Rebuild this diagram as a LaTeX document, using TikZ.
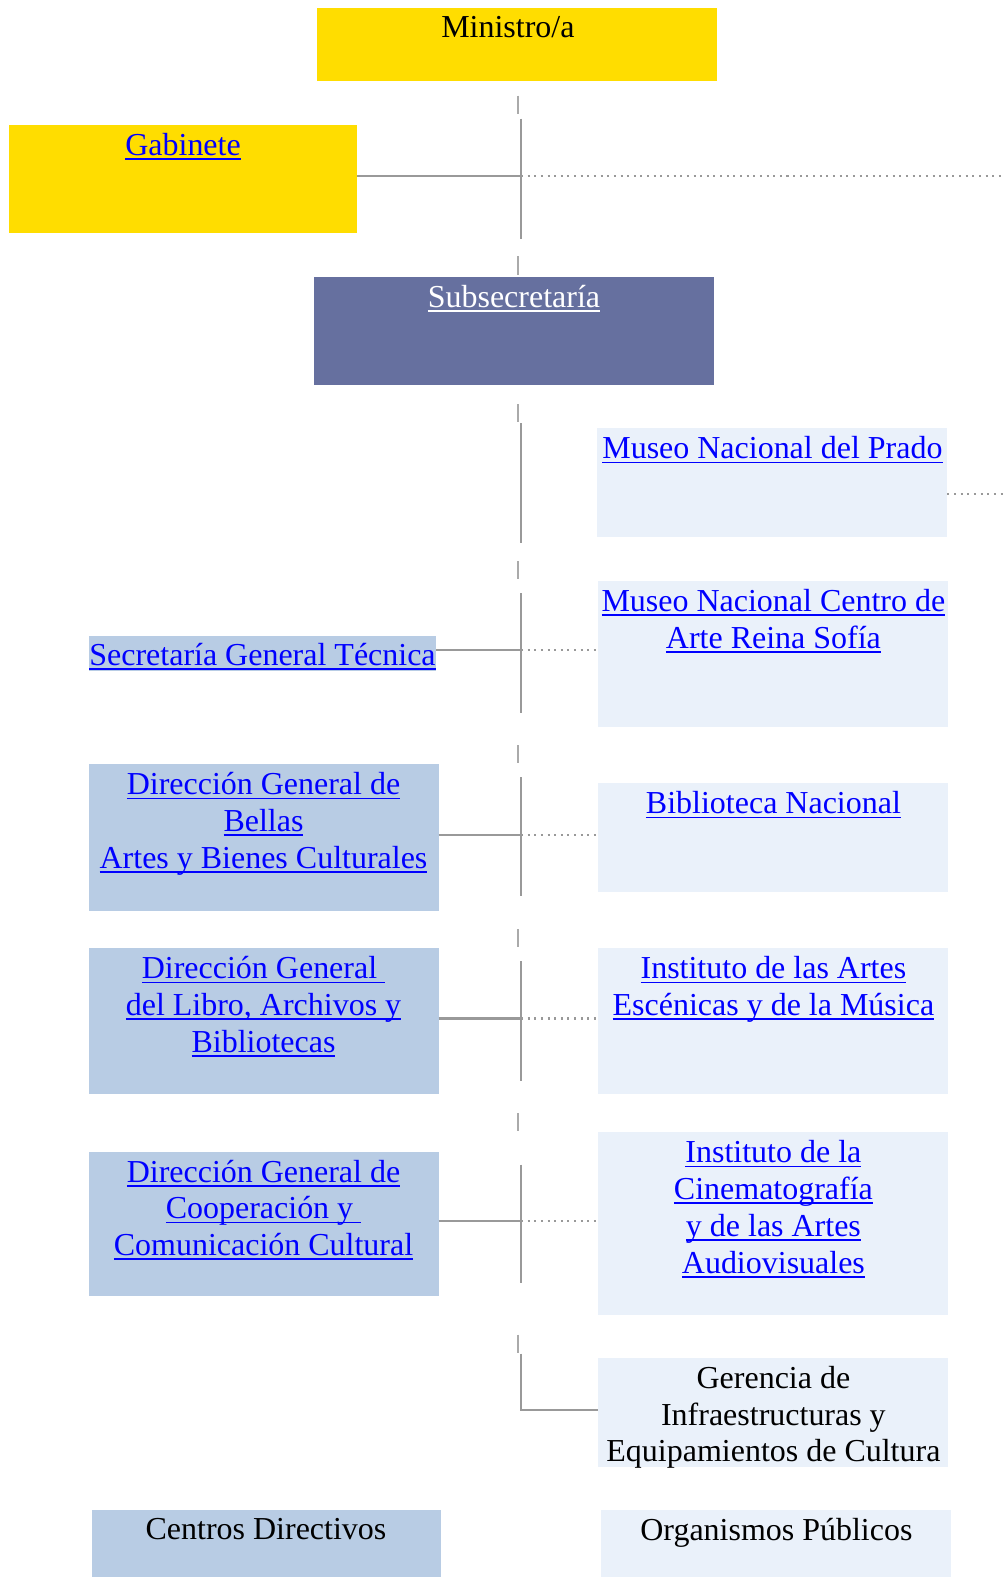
\documentclass[tikz,border=0pt]{standalone}
\usepackage{fontspec}
\setmainfont{Liberation Serif}
\usepackage{tikz}
\usetikzlibrary{positioning}

\definecolor{ministroC}{HTML}{FFDD00}
\definecolor{subC}{HTML}{66709F}
\definecolor{centroC}{HTML}{B8CCE4}
\definecolor{orgC}{HTML}{EAF1FA}
\definecolor{linkC}{HTML}{0000FF}
\definecolor{lineC}{HTML}{999999}
\definecolor{tickC}{HTML}{AAAAAA}

\newsavebox{\lkbox}
\newcommand{\ul}[1]{\sbox{\lkbox}{#1}\rlap{\rule[-4.5pt]{\wd\lkbox}{1.8pt}}\usebox{\lkbox}}
\newcommand{\lk}[1]{{\color{linkC}\ul{#1}}}
\newcommand{\lkw}[1]{{\color{white}\ul{#1}}}

\begin{document}
\begin{tikzpicture}[x=1pt,y=-1pt,
      font={\fontsize{31.8}{36.6}\selectfont},
      box/.style={anchor=north west, inner sep=0pt, outer sep=0pt},
      txt/.style={anchor=north, yshift=-8pt, inner sep=0pt, align=center},
      spine/.style={draw=lineC, line width=2.5pt},
      tick/.style={draw=tickC, line width=2.5pt},
      dots/.style={draw=lineC, line width=2.4pt, dash pattern=on 2pt off 4.6pt}]

    \useasboundingbox (0,0) rectangle (999,1568);
    \coordinate (spine) at (518,0);
    \coordinate (redge) at (999,0);

    %draw top boxes
    \node[box, fill=ministroC, minimum width=398pt, minimum height=73pt,
      label={[txt,xshift=-9pt]north:Ministro/a}] (min) at (315,8) {};
    \node[box, fill=ministroC, minimum width=346pt, minimum height=108pt,
      label={[txt]north:\lk{Gabinete}}] (gab) at (9,124) {};
    \node[box, fill=subC, minimum width=398pt, minimum height=108pt,
      label={[txt]north:\lkw{Subsecretaría}}] (sub) at (312,275) {};

    %draw centros directivos
    \node[box, fill=centroC, minimum width=346pt, minimum height=35pt,
      label={[txt,yshift=1pt]north:\lk{Secretaría General Técnica}}] (sgt) at (88,632) {};
    \node[box, fill=centroC, minimum width=348pt, minimum height=146pt,
      label={[txt]north:\lk{Dirección General de}\\\lk{Bellas}\\\lk{Artes y Bienes Culturales}}] (bellas) at (88,760) {};
    \node[box, fill=centroC, minimum width=348pt, minimum height=145pt,
      label={[txt]north:\lk{Dirección General\ }\\\lk{del Libro, Archivos y}\\\lk{Bibliotecas}}] (libro) at (88,943) {};
    \node[box, fill=centroC, minimum width=348pt, minimum height=144pt,
      label={[txt]north:\lk{Dirección General de}\\\lk{Cooperación y\ }\\\lk{Comunicación Cultural}}] (coop) at (88,1145) {};

    %draw organismos publicos
    \node[box, fill=orgC, minimum width=348pt, minimum height=108pt,
      label={[txt]north:\lk{Museo Nacional del Prado}}] (prado) at (594,426) {};
    \node[box, fill=orgC, minimum width=348pt, minimum height=145pt,
      label={[txt]north:\lk{Museo Nacional Centro de}\\\lk{Arte Reina Sofía}}] (reina) at (595,578) {};
    \node[box, fill=orgC, minimum width=348pt, minimum height=108pt,
      label={[txt]north:\lk{Biblioteca Nacional}}] (bib) at (595,779) {};
    \node[box, fill=orgC, minimum width=348pt, minimum height=145pt,
      label={[txt]north:\lk{Instituto de las Artes}\\\lk{Escénicas y de la Música}}] (inaem) at (595,943) {};
    \node[box, fill=orgC, minimum width=348pt, minimum height=181pt,
      label={[txt]north:\lk{Instituto de la}\\\lk{Cinematografía}\\\lk{y de las Artes}\\\lk{Audiovisuales}}] (icaa) at (595,1126) {};
    \node[box, fill=orgC, minimum width=348pt, minimum height=109pt,
      label={[txt]north:Gerencia de\\Infraestructuras y\\Equipamientos de Cultura}] (ger) at (595,1350) {};

    %draw legend
    \node[box, fill=centroC, minimum width=347pt, minimum height=67pt,
      label={[txt]north:Centros Directivos}] (cd) at (91,1501) {};
    \node[box, fill=orgC, minimum width=348pt, minimum height=67pt,
      label={[txt]north:Organismos Públicos}] (op) at (598,1501) {};

    %draw spine
    \foreach \y in {95, 255, 402, 558, 741, 924, 1107, 1327}{
      \draw[tick] (515,\y) -- ++(0,18);
    }
    \foreach \a/\b in {118/238, 421/540, 590/709, 773/891, 956/1075, 1158/1276}{
      \draw[spine] (518,\a) -- (518,\b);
    }

    %draw connectors
    \draw[spine] ([yshift=3pt]gab.east) -- ([yshift=3pt]gab.east -| spine);
    \draw[dots] ([yshift=3pt]gab.east -| spine) -- ([yshift=3pt]gab.east -| redge);
    \draw[dots] ([yshift=-11pt]prado.east) -- ([yshift=-11pt]prado.east -| redge);
    \foreach \l/\r in {sgt/reina, bellas/bib, libro/inaem, coop/icaa}{
      \draw[spine] ([yshift=3pt]\l.east) -- ([yshift=3pt]\l.east -| spine);
      \draw[dots] ([yshift=3pt]\l.east -| spine) -- ([yshift=3pt]\l.east -| \r.west);
    }
    \draw[spine] (518,1346) |- ([yshift=-52pt]ger.north west);

\end{tikzpicture}
\end{document}
